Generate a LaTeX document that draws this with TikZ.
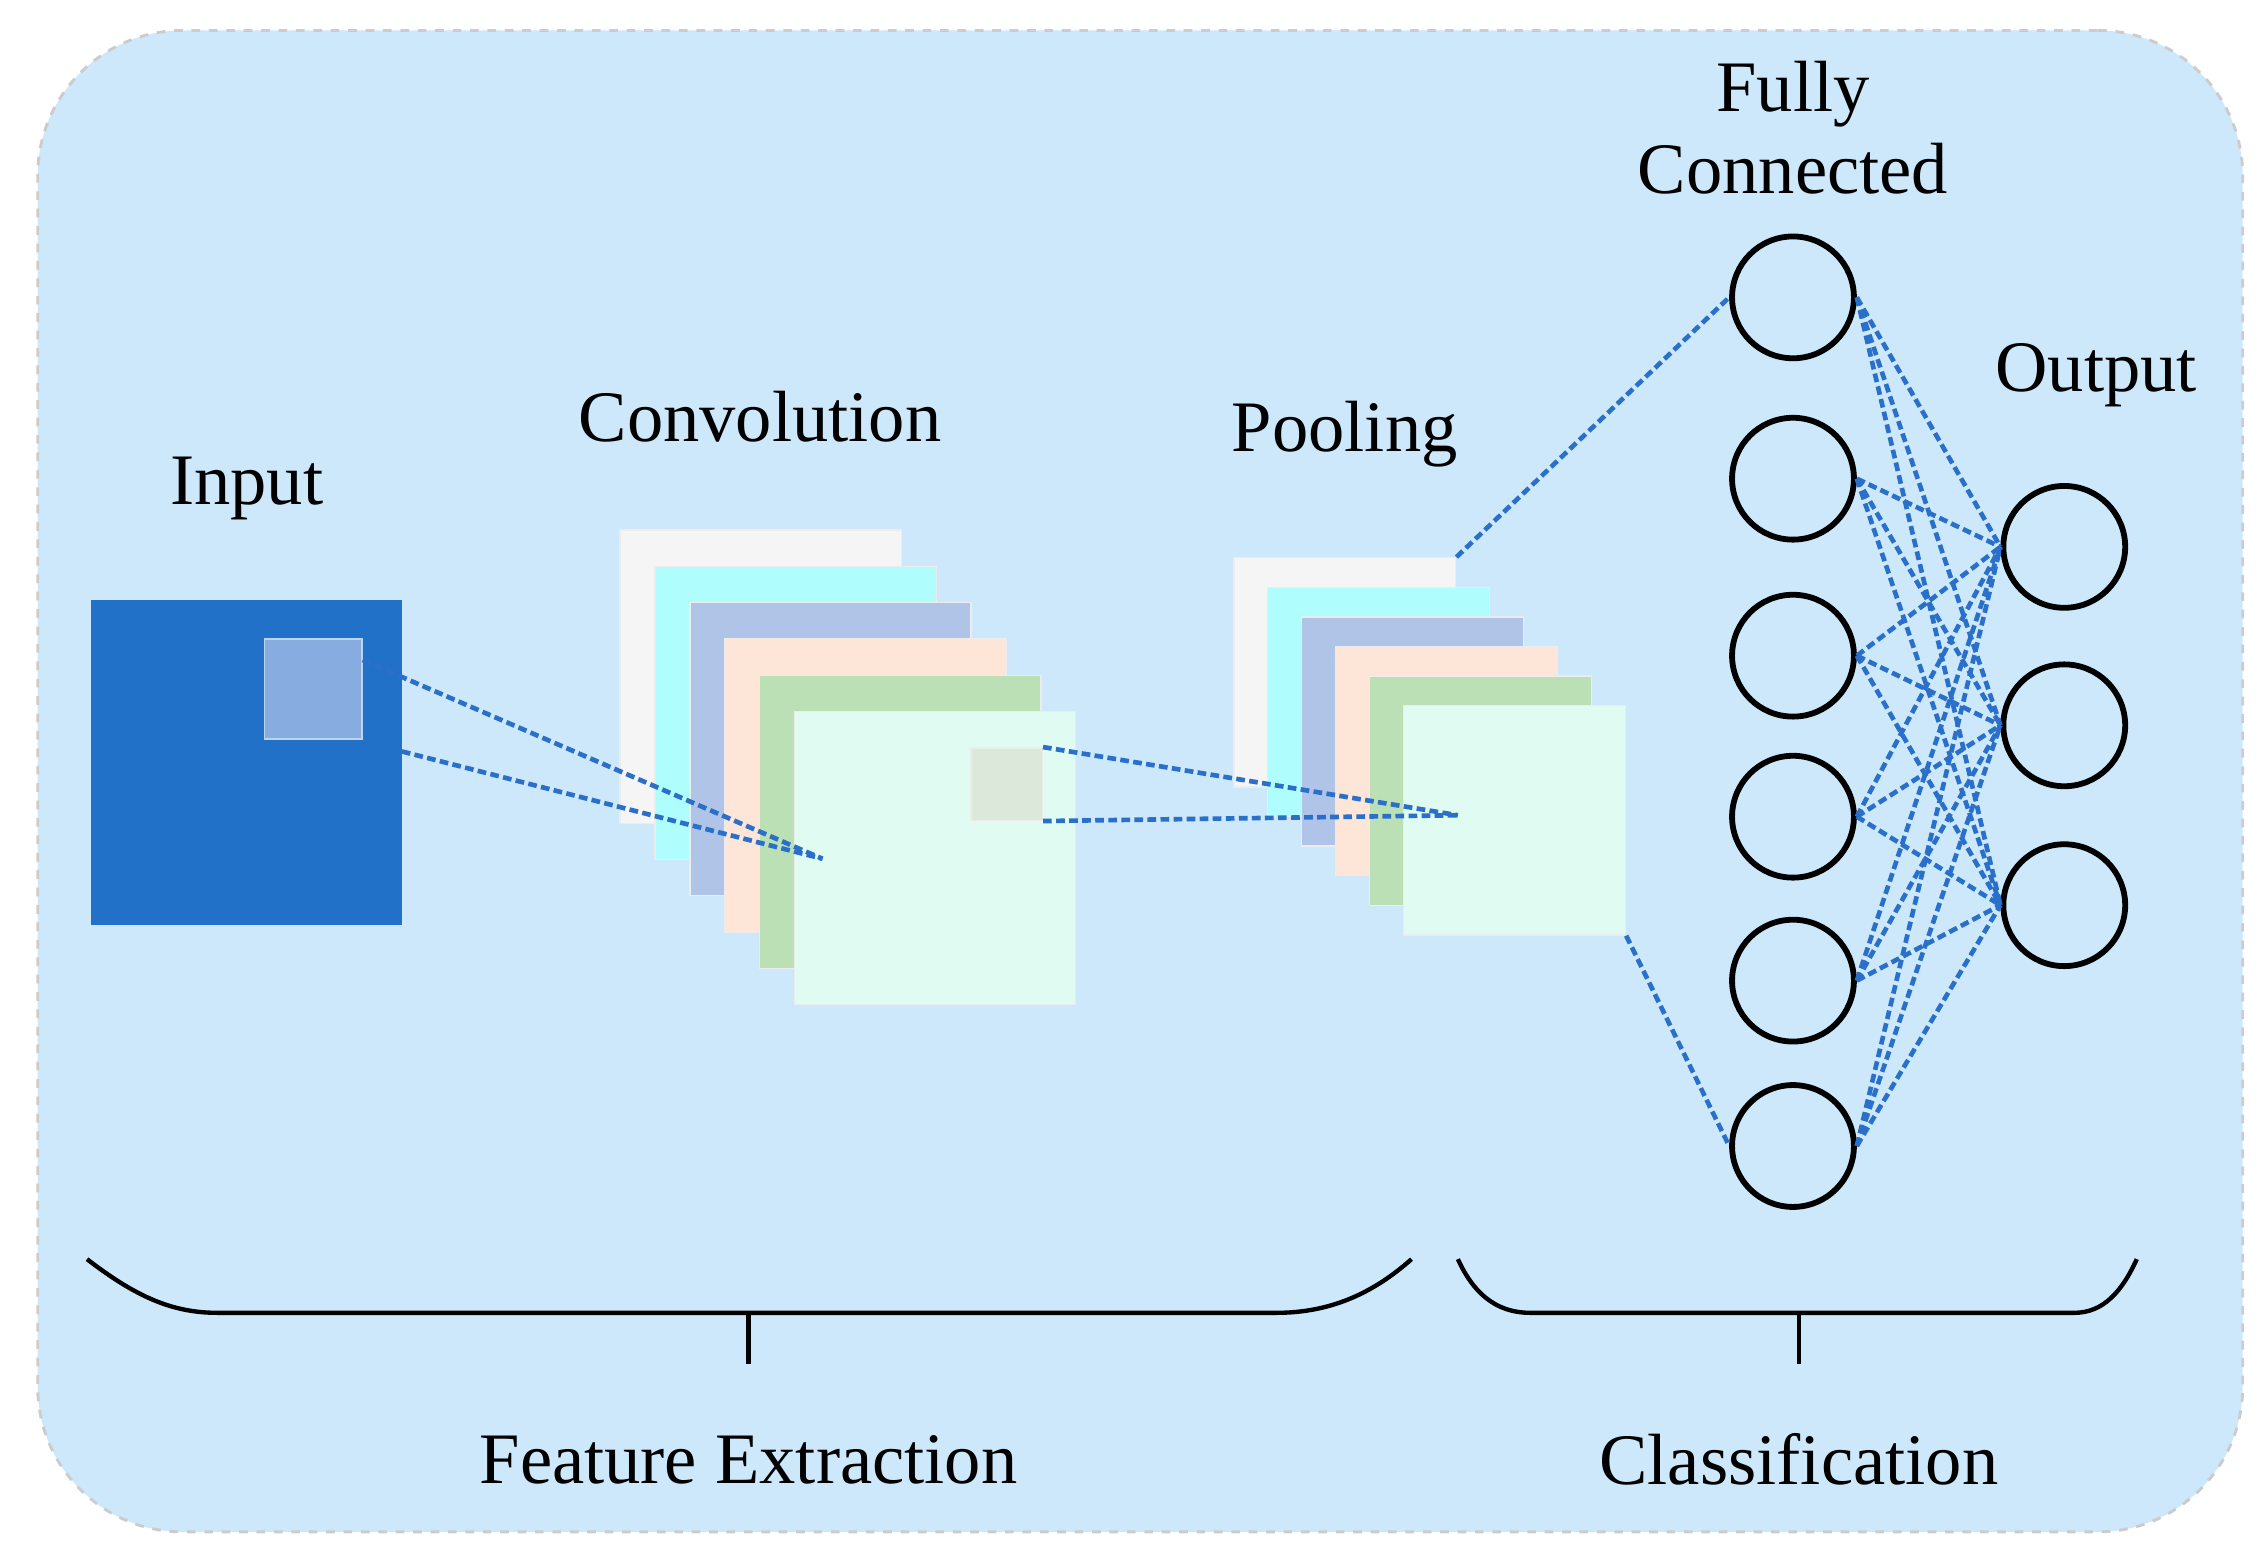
\documentclass[tikz,border=0pt]{standalone}
\usepackage{fontspec}
\setmainfont{Liberation Serif}
\begin{document}
\begin{tikzpicture}[x=0.5pt,y=-0.5pt,
  lbl/.style={font=\fontsize{25}{30}\selectfont, inner sep=0pt},
  sq/.style={draw=white!85!gray, line width=0.5pt, inner sep=0pt, anchor=north west},
  dl/.style={draw={rgb,255:red,42;green,111;blue,201}, line width=1.6pt, dash pattern=on 3pt off 1.5pt},
  neu/.style={circle, draw=black, line width=2pt, minimum size=42pt, inner sep=0pt},
  br/.style={line width=1.5pt}]
\useasboundingbox (0,0) rectangle (1560,1074);
\definecolor{bg}{RGB}{204,232,250}
\definecolor{inp}{RGB}{34,113,200}
\definecolor{c1}{RGB}{245,245,245}
\definecolor{c2}{RGB}{175,253,253}
\definecolor{c3}{RGB}{176,196,232}
\definecolor{c4}{RGB}{253,229,215}
\definecolor{c5}{RGB}{188,224,182}
\definecolor{c6}{RGB}{224,252,242}
\node[draw=gray!40, dashed, line width=1pt, fill=bg, rounded corners=50pt, minimum width=760pt, minimum height=517.5pt, anchor=north west, inner sep=0pt] (bg) at (25,20) {};
% input
\node[fill=inp, minimum width=107.5pt, minimum height=112pt, anchor=north west, inner sep=0pt] (in) at (62,413) {};
\node[sq, fill={rgb,255:red,135;green,172;blue,224}, draw=white!70!inp, minimum width=33.5pt, minimum height=34.5pt] (ink) at (182,440) {};
\node[lbl] (tin) at (170,337) {Input};
% conv
\foreach \i/\c in {0/c1,1/c2,2/c3,3/c4,4/c5,5/c6}{
  \node[sq, fill=\c, minimum width=97pt, minimum height=101pt] (cv\i) at ({427+24*\i},{365+25*\i}) {};
}
\node[sq, fill={rgb,255:red,220;green,233;blue,218}, minimum width=24.5pt, minimum height=25pt] (ck) at (669,515) {};
\node[lbl] (tcv) at (524,287) {Convolution};
% pooling
\foreach \i/\c in {0/c1,1/c2,2/c3,3/c4,4/c5,5/c6}{
  \node[sq, fill=\c, minimum width=76.5pt, minimum height=79pt] (pl\i) at ({850+23.4*\i},{384+20.4*\i}) {};
}
\node[lbl] (tpl) at (927,299) {Pooling};
\coordinate (p1) at (567,592);
\coordinate (p2) at (1005,562);
% neurons
\foreach \i/\y in {1/205,2/330,3/452,4/563,5/676,6/790}{
  \node[neu] (f\i) at (1236,\y) {};
}
\foreach \i/\y in {1/377,2/500,3/624}{
  \node[neu] (o\i) at (1423,\y) {};
}
\node[lbl, align=center] (tfc) at (1236,88) {Fully\\[-2pt]Connected};
\node[lbl] (tout) at (1445,259) {Output};
% dashed connectors
\draw[dl] (ink.north east |- 0,455) -- (p1);
\draw[dl] (277,518) -- (p1);
\draw[dl] (ck.north east) -- (p2);
\draw[dl] (ck.south east) -- (p2);
\draw[dl] (pl0.north east) -- (f1.west);
\draw[dl] (pl5.south east) -- (f6.west);
\foreach \i in {1,...,6}{\foreach \j in {1,2,3}{\draw[dl] (f\i.east) -- (o\j.west);}}
% braces
\draw[br] (60,868) .. controls (95,895) and (120,905) .. (150,905) -- (880,905) .. controls (915,905) and (945,893) .. (973,868);
\draw[br] (516,905) -- (516,940);
\draw[br] (1005,868) .. controls (1015,890) and (1030,905) .. (1055,905) -- (1430,905) .. controls (1450,905) and (1463,890) .. (1473,868);
\draw[br] (1240,905) -- (1240,940);
\node[lbl] (tfe) at (516,1006) {Feature Extraction};
\node[lbl] (tcl) at (1240,1006) {Classification};
\end{tikzpicture}
\end{document}
